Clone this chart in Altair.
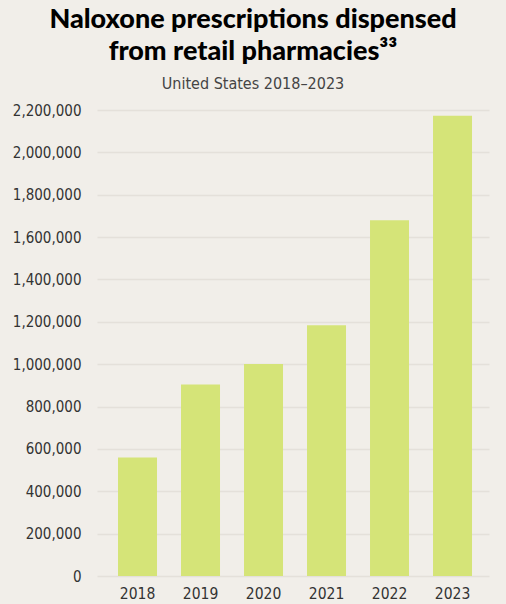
import altair as alt
import pandas as pd

years = ["2018", "2019", "2020", "2021", "2022", "2023"]
prescriptions = [559000, 904000, 1001000, 1184000, 1679000, 2173000]
y_ticks = [0, 200000, 400000, 600000, 800000, 1000000, 1200000, 1400000,
           1600000, 1800000, 2000000, 2200000]

df = pd.DataFrame({"year": years, "value": prescriptions})

BG = "#f1eee9"
BAR = "#d5e478"
NARROW = "'Liberation Sans Narrow', 'DejaVu Sans Condensed', 'Arial Narrow', sans-serif"

chart = alt.Chart(df).mark_bar(color=BAR).encode(
    x=alt.X("year:N", sort=years,
            scale=alt.Scale(paddingInner=0.381, paddingOuter=0.3016, align=0.553),
            axis=alt.Axis(title=None, labelAngle=0, domain=False, ticks=False,
                          labelFont=NARROW, labelFontSize=15.5, labelColor="#333333",
                          labelPadding=10)),
    y=alt.Y("value:Q",
            scale=alt.Scale(domain=[0, 2200000], nice=False),
            axis=alt.Axis(title=None, values=y_ticks, format=",d", domain=False,
                          ticks=False, grid=True, gridColor="#e4e0da", gridWidth=1.5,
                          labelFont=NARROW, labelFontSize=15, labelColor="#333333",
                          labelPadding=16)),
).properties(
    width=392,
    height=466,
    background=BG,
    autosize=alt.AutoSizeParams(type="none"),
    padding={"left": 97, "top": 110, "right": 17, "bottom": 28},
    title=alt.TitleParams(
        text=["Naloxone prescriptions dispensed", "from retail pharmacies³³"],
        subtitle="United States 2018–2023",
        font="Lato", fontSize=27, fontWeight=900, color="#000000",
        lineHeight=32.5,
        subtitleFont=NARROW, subtitleFontSize=16, subtitleColor="#444444",
        subtitlePadding=10,
        anchor="middle", frame="group", dx=-40, offset=10,
    ),
).configure_view(stroke=None)

chart.save("out.html", embed_options={"renderer": "svg", "actions": False})
